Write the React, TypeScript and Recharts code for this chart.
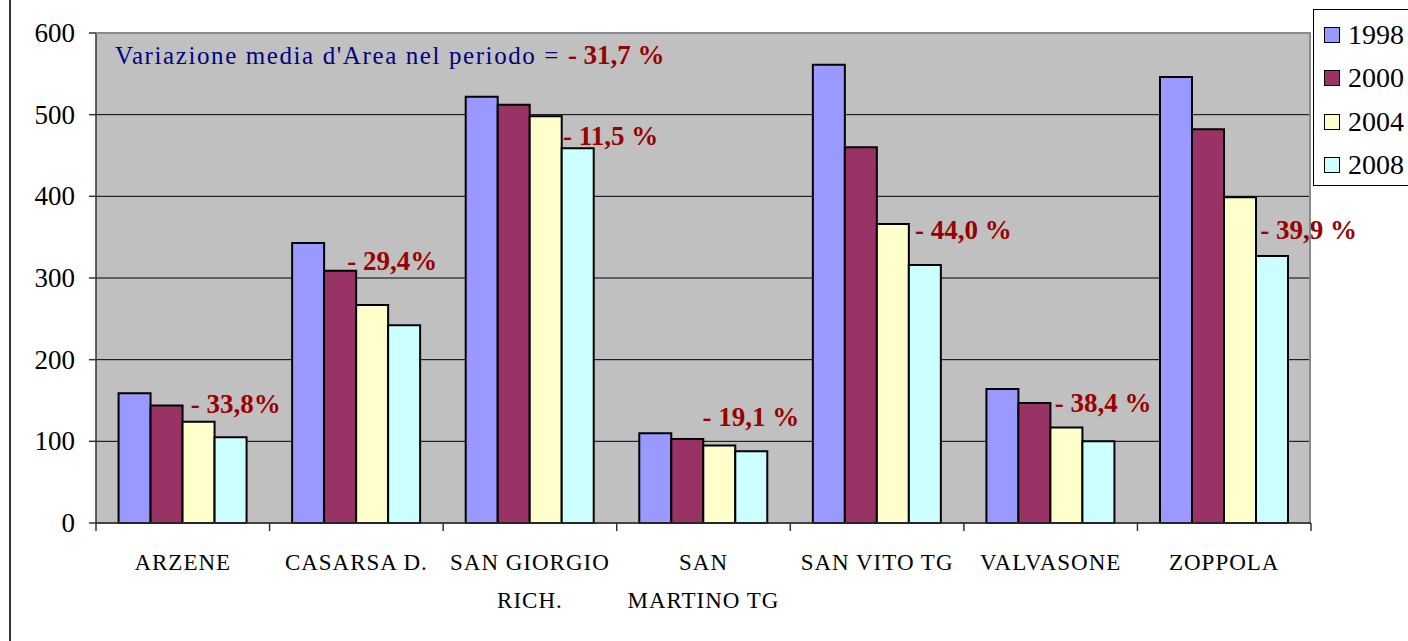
import React from "react";
import {
  Bar,
  BarChart,
  CartesianGrid,
  ReferenceDot,
  XAxis,
  YAxis,
} from "recharts";

const comuni = [
  "ARZENE",
  "CASARSA D.",
  "SAN GIORGIO\nRICH.",
  "SAN\nMARTINO TG",
  "SAN VITO TG",
  "VALVASONE",
  "ZOPPOLA",
];
const v1998 = [159, 343, 522, 110, 561, 164, 546];
const v2000 = [144, 309, 512, 103, 460, 147, 482];
const v2004 = [124, 267, 498, 95, 366, 117, 399];
const v2008 = [105, 242, 459, 88, 316, 100, 327];
const variazioni = ["- 33,8%", "- 29,4%", "- 11,5 %", "- 19,1 %", "- 44,0 %", "- 38,4 %", "- 39,9 %"];
// value height (in y units) where each percentage label sits
const variazioniAt = [146, 321, 474, 130, 359, 147, 359];
const yTicks = [0, 100, 200, 300, 400, 500, 600];

const years = ["1998", "2000", "2004", "2008"];
const colors = ["#9999FF", "#993366", "#FFFFCC", "#CCFFFF"];

const data = comuni.map((c, i) => ({
  name: c,
  "1998": v1998[i],
  "2000": v2000[i],
  "2004": v2004[i],
  "2008": v2008[i],
}));

const W = 1408;
const H = 641;
const M = { top: 33, right: 97, left: 0, bottom: 0 };
const Y_W = 96;
const bandW = (W - Y_W - M.right) / comuni.length;
const labelDx = [8, -9, 33, -1, 38, 4, 36];
const serif = "Liberation Serif";

const CatTick = (props: any) => {
  const { x, y, payload, index } = props;
  const lines = String(payload.value).split("\n");
  const left = x - bandW / 2;
  return (
    <g>
      <line x1={left} y1={y} x2={left} y2={y + 8} stroke="#333" strokeWidth={1.5} />
      {index === comuni.length - 1 && (
        <line x1={x + bandW / 2} y1={y} x2={x + bandW / 2} y2={y + 8} stroke="#333" strokeWidth={1.5} />
      )}
      {lines.map((l, k) => (
        <text
          key={k}
          x={x}
          y={y + 47 + k * 38}
          textAnchor="middle"
          style={{ fontFamily: serif, fontSize: 23, letterSpacing: 1 }}
          fill="#000"
        >
          {l}
        </text>
      ))}
    </g>
  );
};

const ValTick = (props: any) => {
  const { x, y, payload } = props;
  return (
    <text
      x={x}
      y={y}
      textAnchor="end"
      dominantBaseline="central"
      style={{ fontFamily: serif, fontSize: 27 }}
      fill="#000"
    >
      {payload.value}
    </text>
  );
};

const App = () => {
  return (
    <div style={{ position: "absolute", left: 0, top: 0, width: W, height: H, background: "#fff" }}>
      <BarChart
        width={W}
        height={H}
        data={data}
        margin={M}
        barCategoryGap="13%"
        barGap={0}
      >
        <CartesianGrid fill="#C0C0C0" stroke="#000" vertical={false} />
        <XAxis
          dataKey="name"
          interval={0}
          height={118}
          tickLine={false}
          tickSize={0}
          tickMargin={0}
          stroke="#333"
          strokeWidth={1.5}
          tick={<CatTick />}
        />
        <YAxis
          width={Y_W}
          domain={[0, 600]}
          ticks={yTicks}
          interval={0}
          tickSize={7}
          tickMargin={14}
          stroke="#333"
          strokeWidth={1.5}
          tick={<ValTick />}
        />
        {years.map((yr, i) => (
          <Bar
            key={yr}
            dataKey={yr}
            fill={colors[i]}
            stroke="#000"
            strokeWidth={2}
            isAnimationActive={false}
          />
        ))}
        {comuni.map((c, i) => (
          <ReferenceDot
            key={c}
            x={c}
            y={variazioniAt[i]}
            r={0}
            ifOverflow="visible"
            shape={(p: any) => (
              <text
                x={p.cx + labelDx[i]}
                y={p.cy}
                dominantBaseline="central"
                style={{ fontFamily: serif, fontWeight: "bold", fontSize: 27 }}
                fill="#990000"
              >
                {variazioni[i]}
              </text>
            )}
          />
        ))}
      </BarChart>

      {/* plot border */}
      <div
        style={{
          position: "absolute",
          left: Y_W,
          top: M.top - 1,
          width: W - Y_W - M.right,
          height: H - M.top - 118,
          borderTop: "2px solid #8a8a8a",
          borderRight: "2px solid #8a8a8a",
          boxSizing: "border-box",
          pointerEvents: "none",
        }}
      />
      {/* left frame line */}
      <div style={{ position: "absolute", left: 9, top: 0, width: 2, height: H, background: "#333" }} />

      {/* note */}
      <div
        style={{
          position: "absolute",
          left: 115,
          top: 40,
          fontFamily: serif,
          fontSize: 25,
          letterSpacing: 1.6,
          color: "#000080",
          whiteSpace: "nowrap",
        }}
      >
        Variazione media d'Area nel periodo ={" "}
        <span style={{ color: "#990000", fontWeight: "bold", fontSize: 27, letterSpacing: 0 }}>- 31,7 %</span>
      </div>

      {/* legend */}
      <div
        style={{
          position: "absolute",
          left: 1313,
          top: 9,
          width: 110,
          height: 177,
          border: "1px solid #000",
          background: "#fff",
          boxSizing: "border-box",
          paddingTop: 3,
        }}
      >
        {years.map((yr, i) => (
          <div key={yr} style={{ display: "flex", alignItems: "center", height: 43.5 }}>
            <span
              style={{
                display: "inline-block",
                width: 14,
                height: 14,
                marginLeft: 10,
                marginRight: 8,
                background: colors[i],
                border: "1.5px solid #000",
              }}
            />
            <span style={{ fontFamily: serif, fontSize: 28, color: "#000" }}>{yr}</span>
          </div>
        ))}
      </div>
    </div>
  );
};

export default App;
